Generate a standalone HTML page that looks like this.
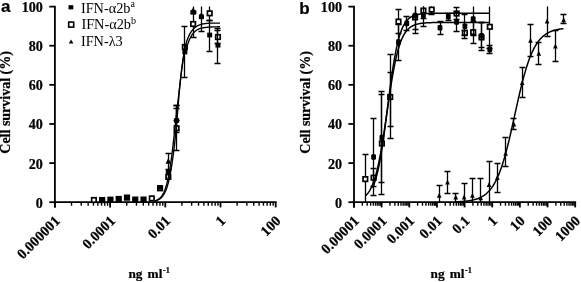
<!DOCTYPE html>
<html><head><meta charset="utf-8"><title>Figure</title>
<style>html,body{margin:0;padding:0;background:#fff;}svg text{fill:#000;}svg text[font-weight=bold]{stroke:#000;stroke-width:0.22px;}</style>
</head><body>
<svg width="581" height="282" viewBox="0 0 581 282" style="display:block;will-change:transform">
<rect width="581" height="282" fill="#fff"/>
<text x="1" y="12.4" font-family="Liberation Sans, sans-serif" font-weight="bold" font-size="17">a</text>
<path d="M49.3,6.6H54.9V207.4" fill="none" stroke="#000" stroke-width="1.8" stroke-linejoin="miter"/>
<path d="M49.3,202.20H54.9" stroke="#000" stroke-width="1.8"/>
<path d="M49.3,163.08H54.9" stroke="#000" stroke-width="1.8"/>
<path d="M49.3,123.96H54.9" stroke="#000" stroke-width="1.8"/>
<path d="M49.3,84.84H54.9" stroke="#000" stroke-width="1.8"/>
<path d="M49.3,45.72H54.9" stroke="#000" stroke-width="1.8"/>
<text x="42.9" y="207.70" text-anchor="end" font-family="Liberation Serif, serif" font-weight="bold" font-size="14.1">0</text>
<text x="42.9" y="168.58" text-anchor="end" font-family="Liberation Serif, serif" font-weight="bold" font-size="14.1">20</text>
<text x="42.9" y="129.46" text-anchor="end" font-family="Liberation Serif, serif" font-weight="bold" font-size="14.1">40</text>
<text x="42.9" y="90.34" text-anchor="end" font-family="Liberation Serif, serif" font-weight="bold" font-size="14.1">60</text>
<text x="42.9" y="51.22" text-anchor="end" font-family="Liberation Serif, serif" font-weight="bold" font-size="14.1">80</text>
<text x="42.9" y="12.10" text-anchor="end" font-family="Liberation Serif, serif" font-weight="bold" font-size="14.1">100</text>
<path d="M54.0,202.2H276.59999999999997" stroke="#000" stroke-width="1.8"/>
<path d="M54.90,202.2V207.4" stroke="#000" stroke-width="1.8"/>
<path d="M71.52,202.2V205.7" stroke="#000" stroke-width="1.4"/>
<path d="M81.24,202.2V205.7" stroke="#000" stroke-width="1.4"/>
<path d="M88.13,202.2V205.7" stroke="#000" stroke-width="1.4"/>
<path d="M93.48,202.2V205.7" stroke="#000" stroke-width="1.4"/>
<path d="M97.85,202.2V205.7" stroke="#000" stroke-width="1.4"/>
<path d="M101.55,202.2V205.7" stroke="#000" stroke-width="1.4"/>
<path d="M104.75,202.2V205.7" stroke="#000" stroke-width="1.4"/>
<path d="M107.57,202.2V205.7" stroke="#000" stroke-width="1.4"/>
<text transform="translate(54.70,215.6) rotate(-45)" text-anchor="end" font-family="Liberation Serif, serif" font-weight="bold" font-size="14.4" dy="8.6">0.000001</text>
<path d="M110.10,202.2V207.4" stroke="#000" stroke-width="1.8"/>
<path d="M126.72,202.2V205.7" stroke="#000" stroke-width="1.4"/>
<path d="M136.44,202.2V205.7" stroke="#000" stroke-width="1.4"/>
<path d="M143.33,202.2V205.7" stroke="#000" stroke-width="1.4"/>
<path d="M148.68,202.2V205.7" stroke="#000" stroke-width="1.4"/>
<path d="M153.05,202.2V205.7" stroke="#000" stroke-width="1.4"/>
<path d="M156.75,202.2V205.7" stroke="#000" stroke-width="1.4"/>
<path d="M159.95,202.2V205.7" stroke="#000" stroke-width="1.4"/>
<path d="M162.77,202.2V205.7" stroke="#000" stroke-width="1.4"/>
<text transform="translate(109.90,215.6) rotate(-45)" text-anchor="end" font-family="Liberation Serif, serif" font-weight="bold" font-size="14.4" dy="8.6">0.0001</text>
<path d="M165.30,202.2V207.4" stroke="#000" stroke-width="1.8"/>
<path d="M181.92,202.2V205.7" stroke="#000" stroke-width="1.4"/>
<path d="M191.64,202.2V205.7" stroke="#000" stroke-width="1.4"/>
<path d="M198.53,202.2V205.7" stroke="#000" stroke-width="1.4"/>
<path d="M203.88,202.2V205.7" stroke="#000" stroke-width="1.4"/>
<path d="M208.25,202.2V205.7" stroke="#000" stroke-width="1.4"/>
<path d="M211.95,202.2V205.7" stroke="#000" stroke-width="1.4"/>
<path d="M215.15,202.2V205.7" stroke="#000" stroke-width="1.4"/>
<path d="M217.97,202.2V205.7" stroke="#000" stroke-width="1.4"/>
<text transform="translate(165.10,215.6) rotate(-45)" text-anchor="end" font-family="Liberation Serif, serif" font-weight="bold" font-size="14.4" dy="8.6">0.01</text>
<path d="M220.50,202.2V207.4" stroke="#000" stroke-width="1.8"/>
<path d="M237.12,202.2V205.7" stroke="#000" stroke-width="1.4"/>
<path d="M246.84,202.2V205.7" stroke="#000" stroke-width="1.4"/>
<path d="M253.73,202.2V205.7" stroke="#000" stroke-width="1.4"/>
<path d="M259.08,202.2V205.7" stroke="#000" stroke-width="1.4"/>
<path d="M263.45,202.2V205.7" stroke="#000" stroke-width="1.4"/>
<path d="M267.15,202.2V205.7" stroke="#000" stroke-width="1.4"/>
<path d="M270.35,202.2V205.7" stroke="#000" stroke-width="1.4"/>
<path d="M273.17,202.2V205.7" stroke="#000" stroke-width="1.4"/>
<text transform="translate(220.30,215.6) rotate(-45)" text-anchor="end" font-family="Liberation Serif, serif" font-weight="bold" font-size="14.4" dy="8.6">1</text>
<path d="M275.70,202.2V207.4" stroke="#000" stroke-width="1.8"/>
<text transform="translate(275.50,215.6) rotate(-45)" text-anchor="end" font-family="Liberation Serif, serif" font-weight="bold" font-size="14.4" dy="8.6">100</text>
<text transform="translate(10.4,102.4) rotate(-90)" text-anchor="middle" font-family="Liberation Serif, serif" font-weight="bold" font-size="14">Cell survival (%)</text>
<text y="277.6" font-family="Liberation Serif, serif" font-weight="bold" font-size="13.3"><tspan x="128.4">ng</tspan><tspan x="147.6">ml</tspan><tspan x="163" dy="-4.6" font-size="8.2">-1</tspan></text>
<rect x="68.50" y="5.20" width="4.8" height="4.2" fill="#000"/>
<rect x="68.70" y="22.10" width="5.0" height="5.0" fill="#fff" stroke="#000" stroke-width="1.6"/>
<path d="M71.10,39.39L73.40,43.59H68.80Z" fill="#000"/>
<text x="80.9" y="12.5" font-family="Liberation Serif, serif" font-size="14.3">IFN-α2b<tspan dy="-5.9" font-size="10">a</tspan></text>
<text x="81.4" y="29.4" font-family="Liberation Serif, serif" font-size="14.3">IFN-α2b<tspan dy="-5.9" font-size="10">b</tspan></text>
<text x="80.9" y="45.8" font-family="Liberation Serif, serif" font-size="14.3">IFN-λ3</text>
<path d="M176.50,105.50V150.50M173.50,105.50H179.50M173.50,150.50H179.50" stroke="#000" stroke-width="1.3" fill="none"/>
<path d="M193.50,11.50V37.50M190.50,11.50H196.50M190.50,37.50H196.50" stroke="#000" stroke-width="1.3" fill="none"/>
<path d="M209.50,6.40V20.50M206.50,20.50H212.50" stroke="#000" stroke-width="1.3" fill="none"/>
<path d="M217.50,28.50V43.50M214.50,28.50H220.50M214.50,43.50H220.50" stroke="#000" stroke-width="1.3" fill="none"/>
<rect x="91.65" y="197.75" width="4.5" height="4.5" fill="#fff" stroke="#000" stroke-width="1.7"/>
<rect x="99.92" y="197.85" width="4.5" height="4.5" fill="#fff" stroke="#000" stroke-width="1.7"/>
<rect x="108.19" y="197.45" width="4.5" height="4.5" fill="#fff" stroke="#000" stroke-width="1.7"/>
<rect x="116.46" y="196.75" width="4.5" height="4.5" fill="#fff" stroke="#000" stroke-width="1.7"/>
<rect x="124.73" y="195.35" width="4.5" height="4.5" fill="#fff" stroke="#000" stroke-width="1.7"/>
<rect x="133.00" y="197.35" width="4.5" height="4.5" fill="#fff" stroke="#000" stroke-width="1.7"/>
<rect x="141.27" y="197.35" width="4.5" height="4.5" fill="#fff" stroke="#000" stroke-width="1.7"/>
<rect x="149.54" y="196.15" width="4.5" height="4.5" fill="#fff" stroke="#000" stroke-width="1.7"/>
<rect x="157.81" y="186.05" width="4.5" height="4.5" fill="#fff" stroke="#000" stroke-width="1.7"/>
<rect x="166.08" y="174.65" width="4.5" height="4.5" fill="#fff" stroke="#000" stroke-width="1.7"/>
<rect x="174.35" y="126.05" width="4.5" height="4.5" fill="#fff" stroke="#000" stroke-width="1.7"/>
<rect x="182.62" y="44.75" width="4.5" height="4.5" fill="#fff" stroke="#000" stroke-width="1.7"/>
<rect x="190.89" y="21.75" width="4.5" height="4.5" fill="#fff" stroke="#000" stroke-width="1.7"/>
<rect x="207.43" y="11.05" width="4.5" height="4.5" fill="#fff" stroke="#000" stroke-width="1.7"/>
<rect x="215.70" y="34.75" width="4.5" height="4.5" fill="#fff" stroke="#000" stroke-width="1.7"/>
<path d="M176.50,108.50V132.50M173.50,108.50H179.50M173.50,132.50H179.50" stroke="#000" stroke-width="1.3" fill="none"/>
<path d="M184.50,26.50V77.50M181.50,26.50H187.50M181.50,77.50H187.50" stroke="#000" stroke-width="1.3" fill="none"/>
<path d="M193.50,6.40V13.50M190.50,13.50H196.50" stroke="#000" stroke-width="1.3" fill="none"/>
<path d="M201.50,6.40V31.50M198.50,31.50H204.50" stroke="#000" stroke-width="1.3" fill="none"/>
<path d="M209.50,20.50V51.50M206.50,20.50H212.50M206.50,51.50H212.50" stroke="#000" stroke-width="1.3" fill="none"/>
<path d="M217.50,30.50V63.50M214.50,30.50H220.50M214.50,63.50H220.50" stroke="#000" stroke-width="1.3" fill="none"/>
<rect x="99.67" y="197.75" width="5.0" height="4.7" fill="#000"/>
<rect x="107.94" y="197.45" width="5.0" height="4.7" fill="#000"/>
<rect x="116.21" y="196.85" width="5.0" height="4.7" fill="#000"/>
<rect x="124.48" y="195.35" width="5.0" height="4.7" fill="#000"/>
<rect x="132.75" y="197.35" width="5.0" height="4.7" fill="#000"/>
<rect x="141.02" y="197.35" width="5.0" height="4.7" fill="#000"/>
<rect x="157.56" y="185.05" width="5.0" height="4.7" fill="#000"/>
<rect x="165.83" y="169.95" width="5.0" height="4.7" fill="#000"/>
<rect x="174.10" y="118.15" width="5.0" height="4.7" fill="#000"/>
<rect x="182.37" y="49.65" width="5.0" height="4.7" fill="#000"/>
<rect x="190.64" y="9.85" width="5.0" height="4.7" fill="#000"/>
<rect x="198.91" y="14.45" width="5.0" height="4.7" fill="#000"/>
<rect x="207.18" y="32.65" width="5.0" height="4.7" fill="#000"/>
<rect x="215.45" y="42.85" width="5.0" height="4.7" fill="#000"/>
<path d="M168.50,153.50V169.50M165.50,153.50H171.50M165.50,169.50H171.50" stroke="#000" stroke-width="1.3" fill="none"/>
<path d="M176.50,105.50V120.50M173.50,105.50H179.50M173.50,120.50H179.50" stroke="#000" stroke-width="1.3" fill="none"/>
<path d="M168.33,158.12L171.13,163.72H165.53Z" fill="#000"/>
<path d="M193.14,7.42L195.94,13.02H190.34Z" fill="#000"/>
<path d="M201.41,11.92L204.21,17.52H198.61Z" fill="#000"/>
<polyline points="155.00,201.04 155.50,200.91 156.00,200.76 156.50,200.59 157.00,200.40 157.50,200.20 158.00,199.97 158.50,199.71 159.00,199.43 159.50,199.11 160.00,198.76 160.50,198.37 161.00,197.93 161.50,197.45 162.00,196.91 162.50,196.32 163.00,195.66 163.50,194.93 164.00,194.13 164.50,193.24 165.00,192.25 165.50,191.17 166.00,189.97 166.50,188.66 167.00,187.22 167.50,185.64 168.00,183.91 168.50,182.02 169.00,179.97 169.50,177.74 170.00,175.32 170.50,172.71 171.00,169.90 171.50,166.89 172.00,163.67 172.50,160.24 173.00,156.60 173.50,152.76 174.00,148.73 174.50,144.52 175.00,140.14 175.50,135.61 176.00,130.95 176.50,125.28 177.00,119.28 177.50,113.22 178.00,107.15 178.50,101.14 179.00,95.23 179.50,89.47 180.00,84.08 180.50,79.57 181.00,75.25 181.50,71.13 182.00,67.23 182.50,63.54 183.00,60.07 183.50,56.83 184.00,53.77 184.50,50.79 185.00,48.05 185.50,45.54 186.00,43.60 186.50,42.02 187.00,40.55 187.50,39.18 188.00,37.90 188.50,36.72 189.00,35.63 189.50,34.62 190.00,33.68 190.50,32.81 191.00,32.02 191.50,31.28 192.00,30.60 192.50,29.98 193.00,29.40 193.50,28.87 194.00,28.38 194.50,27.94 195.00,27.53 195.50,27.15 196.00,26.80 196.50,26.48 197.00,26.19 197.50,25.93 198.00,25.68 198.50,25.45 199.00,25.19 199.50,24.97 200.00,24.76 200.50,24.58 201.00,24.42 201.50,24.27 202.00,24.14 202.50,24.02 203.00,23.92 203.50,23.83 204.00,23.74 204.50,23.67 205.00,23.60 205.50,23.54 206.00,23.49 206.50,23.44 207.00,23.39 207.50,23.36 208.00,23.32 208.50,23.29 209.00,23.26 209.50,23.24 210.00,23.22 210.50,23.20 211.00,23.18 211.50,23.16 212.00,23.15 212.50,23.14 213.00,23.13 213.50,23.12 214.00,23.11 214.50,23.10 215.00,23.09 215.50,23.08 216.00,23.08 216.50,23.07 217.00,23.07 217.50,23.07 218.00,23.06 218.50,23.06 219.00,23.06 219.50,23.05 220.00,23.05" fill="none" stroke="#000" stroke-width="1.35" stroke-linejoin="round"/>
<polyline points="155.00,200.79 155.50,200.62 156.00,200.43 156.50,200.22 157.00,199.99 157.50,199.73 158.00,199.44 158.50,199.11 159.00,198.75 159.50,198.35 160.00,197.90 160.50,197.39 161.00,196.84 161.50,196.22 162.00,195.53 162.50,194.76 163.00,193.91 163.50,192.97 164.00,191.93 164.50,190.78 165.00,189.52 165.50,188.12 166.00,186.58 166.50,184.90 167.00,183.05 167.50,181.03 168.00,178.84 168.50,176.45 169.00,173.87 169.50,171.08 170.00,168.07 170.50,164.86 171.00,161.42 171.50,157.78 172.00,153.92 172.50,149.86 173.00,145.62 173.50,141.20 174.00,136.62 174.50,131.91 175.00,127.40 175.50,123.01 176.00,118.58 176.50,114.12 177.00,109.67 177.50,105.24 178.00,100.86 178.50,96.55 179.00,92.32 179.50,88.21 180.00,84.05 180.50,79.45 181.00,75.06 181.50,70.90 182.00,66.99 182.50,63.33 183.00,59.92 183.50,56.76 184.00,54.09 184.50,52.56 185.00,51.10 185.50,49.71 186.00,48.39 186.50,47.14 187.00,45.95 187.50,44.82 188.00,43.42 188.50,42.04 189.00,40.76 189.50,39.58 190.00,38.49 190.50,37.49 191.00,36.57 191.50,35.72 192.00,34.94 192.50,34.22 193.00,33.57 193.50,32.96 194.00,32.41 194.50,31.90 195.00,31.43 195.50,31.01 196.00,30.62 196.50,30.27 197.00,29.94 197.50,29.65 198.00,29.38 198.50,29.14 199.00,28.91 199.50,28.71 200.00,28.52 200.50,28.35 201.00,28.20 201.50,28.09 202.00,27.99 202.50,27.90 203.00,27.81 203.50,27.73 204.00,27.65 204.50,27.58 205.00,27.52 205.50,27.46 206.00,27.40 206.50,27.35 207.00,27.30 207.50,27.25 208.00,27.21 208.50,27.17 209.00,27.14 209.50,27.10 210.00,27.07 210.50,27.04 211.00,27.01 211.50,26.99 212.00,26.96 212.50,26.94 213.00,26.92 213.50,26.90 214.00,26.88 214.50,26.87 215.00,26.85 215.50,26.84 216.00,26.83 216.50,26.81 217.00,26.80 217.50,26.79 218.00,26.78 218.50,26.77 219.00,26.76 219.50,26.75 220.00,26.75" fill="none" stroke="#000" stroke-width="1.35" stroke-linejoin="round"/>
<text x="299.3" y="13.5" font-family="Liberation Sans, sans-serif" font-weight="bold" font-size="17">b</text>
<path d="M348.4,6.6H354.0V207.4" fill="none" stroke="#000" stroke-width="1.8" stroke-linejoin="miter"/>
<path d="M348.4,202.20H354.0" stroke="#000" stroke-width="1.8"/>
<path d="M348.4,163.08H354.0" stroke="#000" stroke-width="1.8"/>
<path d="M348.4,123.96H354.0" stroke="#000" stroke-width="1.8"/>
<path d="M348.4,84.84H354.0" stroke="#000" stroke-width="1.8"/>
<path d="M348.4,45.72H354.0" stroke="#000" stroke-width="1.8"/>
<text x="342.0" y="207.70" text-anchor="end" font-family="Liberation Serif, serif" font-weight="bold" font-size="14.1">0</text>
<text x="342.0" y="168.58" text-anchor="end" font-family="Liberation Serif, serif" font-weight="bold" font-size="14.1">20</text>
<text x="342.0" y="129.46" text-anchor="end" font-family="Liberation Serif, serif" font-weight="bold" font-size="14.1">40</text>
<text x="342.0" y="90.34" text-anchor="end" font-family="Liberation Serif, serif" font-weight="bold" font-size="14.1">60</text>
<text x="342.0" y="51.22" text-anchor="end" font-family="Liberation Serif, serif" font-weight="bold" font-size="14.1">80</text>
<text x="342.0" y="12.10" text-anchor="end" font-family="Liberation Serif, serif" font-weight="bold" font-size="14.1">100</text>
<path d="M353.1,202.2H576.1" stroke="#000" stroke-width="1.8"/>
<path d="M354.00,202.2V207.4" stroke="#000" stroke-width="1.8"/>
<path d="M362.32,202.2V205.7" stroke="#000" stroke-width="1.4"/>
<path d="M367.19,202.2V205.7" stroke="#000" stroke-width="1.4"/>
<path d="M370.65,202.2V205.7" stroke="#000" stroke-width="1.4"/>
<path d="M373.33,202.2V205.7" stroke="#000" stroke-width="1.4"/>
<path d="M375.52,202.2V205.7" stroke="#000" stroke-width="1.4"/>
<path d="M377.37,202.2V205.7" stroke="#000" stroke-width="1.4"/>
<path d="M378.97,202.2V205.7" stroke="#000" stroke-width="1.4"/>
<path d="M380.38,202.2V205.7" stroke="#000" stroke-width="1.4"/>
<text transform="translate(353.80,215.6) rotate(-45)" text-anchor="end" font-family="Liberation Serif, serif" font-weight="bold" font-size="14.4" dy="8.6">0.00001</text>
<path d="M381.65,202.2V207.4" stroke="#000" stroke-width="1.8"/>
<path d="M389.97,202.2V205.7" stroke="#000" stroke-width="1.4"/>
<path d="M394.84,202.2V205.7" stroke="#000" stroke-width="1.4"/>
<path d="M398.30,202.2V205.7" stroke="#000" stroke-width="1.4"/>
<path d="M400.98,202.2V205.7" stroke="#000" stroke-width="1.4"/>
<path d="M403.17,202.2V205.7" stroke="#000" stroke-width="1.4"/>
<path d="M405.02,202.2V205.7" stroke="#000" stroke-width="1.4"/>
<path d="M406.62,202.2V205.7" stroke="#000" stroke-width="1.4"/>
<path d="M408.03,202.2V205.7" stroke="#000" stroke-width="1.4"/>
<text transform="translate(381.45,215.6) rotate(-45)" text-anchor="end" font-family="Liberation Serif, serif" font-weight="bold" font-size="14.4" dy="8.6">0.0001</text>
<path d="M409.30,202.2V207.4" stroke="#000" stroke-width="1.8"/>
<path d="M417.62,202.2V205.7" stroke="#000" stroke-width="1.4"/>
<path d="M422.49,202.2V205.7" stroke="#000" stroke-width="1.4"/>
<path d="M425.95,202.2V205.7" stroke="#000" stroke-width="1.4"/>
<path d="M428.63,202.2V205.7" stroke="#000" stroke-width="1.4"/>
<path d="M430.82,202.2V205.7" stroke="#000" stroke-width="1.4"/>
<path d="M432.67,202.2V205.7" stroke="#000" stroke-width="1.4"/>
<path d="M434.27,202.2V205.7" stroke="#000" stroke-width="1.4"/>
<path d="M435.68,202.2V205.7" stroke="#000" stroke-width="1.4"/>
<text transform="translate(409.10,215.6) rotate(-45)" text-anchor="end" font-family="Liberation Serif, serif" font-weight="bold" font-size="14.4" dy="8.6">0.001</text>
<path d="M436.95,202.2V207.4" stroke="#000" stroke-width="1.8"/>
<path d="M445.27,202.2V205.7" stroke="#000" stroke-width="1.4"/>
<path d="M450.14,202.2V205.7" stroke="#000" stroke-width="1.4"/>
<path d="M453.60,202.2V205.7" stroke="#000" stroke-width="1.4"/>
<path d="M456.28,202.2V205.7" stroke="#000" stroke-width="1.4"/>
<path d="M458.47,202.2V205.7" stroke="#000" stroke-width="1.4"/>
<path d="M460.32,202.2V205.7" stroke="#000" stroke-width="1.4"/>
<path d="M461.92,202.2V205.7" stroke="#000" stroke-width="1.4"/>
<path d="M463.33,202.2V205.7" stroke="#000" stroke-width="1.4"/>
<text transform="translate(436.75,215.6) rotate(-45)" text-anchor="end" font-family="Liberation Serif, serif" font-weight="bold" font-size="14.4" dy="8.6">0.01</text>
<path d="M464.60,202.2V207.4" stroke="#000" stroke-width="1.8"/>
<path d="M472.92,202.2V205.7" stroke="#000" stroke-width="1.4"/>
<path d="M477.79,202.2V205.7" stroke="#000" stroke-width="1.4"/>
<path d="M481.25,202.2V205.7" stroke="#000" stroke-width="1.4"/>
<path d="M483.93,202.2V205.7" stroke="#000" stroke-width="1.4"/>
<path d="M486.12,202.2V205.7" stroke="#000" stroke-width="1.4"/>
<path d="M487.97,202.2V205.7" stroke="#000" stroke-width="1.4"/>
<path d="M489.57,202.2V205.7" stroke="#000" stroke-width="1.4"/>
<path d="M490.98,202.2V205.7" stroke="#000" stroke-width="1.4"/>
<text transform="translate(464.40,215.6) rotate(-45)" text-anchor="end" font-family="Liberation Serif, serif" font-weight="bold" font-size="14.4" dy="8.6">0.1</text>
<path d="M492.25,202.2V207.4" stroke="#000" stroke-width="1.8"/>
<path d="M500.57,202.2V205.7" stroke="#000" stroke-width="1.4"/>
<path d="M505.44,202.2V205.7" stroke="#000" stroke-width="1.4"/>
<path d="M508.90,202.2V205.7" stroke="#000" stroke-width="1.4"/>
<path d="M511.58,202.2V205.7" stroke="#000" stroke-width="1.4"/>
<path d="M513.77,202.2V205.7" stroke="#000" stroke-width="1.4"/>
<path d="M515.62,202.2V205.7" stroke="#000" stroke-width="1.4"/>
<path d="M517.22,202.2V205.7" stroke="#000" stroke-width="1.4"/>
<path d="M518.63,202.2V205.7" stroke="#000" stroke-width="1.4"/>
<text transform="translate(492.05,215.6) rotate(-45)" text-anchor="end" font-family="Liberation Serif, serif" font-weight="bold" font-size="14.4" dy="8.6">1</text>
<path d="M519.90,202.2V207.4" stroke="#000" stroke-width="1.8"/>
<path d="M528.22,202.2V205.7" stroke="#000" stroke-width="1.4"/>
<path d="M533.09,202.2V205.7" stroke="#000" stroke-width="1.4"/>
<path d="M536.55,202.2V205.7" stroke="#000" stroke-width="1.4"/>
<path d="M539.23,202.2V205.7" stroke="#000" stroke-width="1.4"/>
<path d="M541.42,202.2V205.7" stroke="#000" stroke-width="1.4"/>
<path d="M543.27,202.2V205.7" stroke="#000" stroke-width="1.4"/>
<path d="M544.87,202.2V205.7" stroke="#000" stroke-width="1.4"/>
<path d="M546.28,202.2V205.7" stroke="#000" stroke-width="1.4"/>
<text transform="translate(519.70,215.6) rotate(-45)" text-anchor="end" font-family="Liberation Serif, serif" font-weight="bold" font-size="14.4" dy="8.6">10</text>
<path d="M547.55,202.2V207.4" stroke="#000" stroke-width="1.8"/>
<path d="M555.87,202.2V205.7" stroke="#000" stroke-width="1.4"/>
<path d="M560.74,202.2V205.7" stroke="#000" stroke-width="1.4"/>
<path d="M564.20,202.2V205.7" stroke="#000" stroke-width="1.4"/>
<path d="M566.88,202.2V205.7" stroke="#000" stroke-width="1.4"/>
<path d="M569.07,202.2V205.7" stroke="#000" stroke-width="1.4"/>
<path d="M570.92,202.2V205.7" stroke="#000" stroke-width="1.4"/>
<path d="M572.52,202.2V205.7" stroke="#000" stroke-width="1.4"/>
<path d="M573.93,202.2V205.7" stroke="#000" stroke-width="1.4"/>
<text transform="translate(547.35,215.6) rotate(-45)" text-anchor="end" font-family="Liberation Serif, serif" font-weight="bold" font-size="14.4" dy="8.6">100</text>
<path d="M575.20,202.2V207.4" stroke="#000" stroke-width="1.8"/>
<text transform="translate(575.00,215.6) rotate(-45)" text-anchor="end" font-family="Liberation Serif, serif" font-weight="bold" font-size="14.4" dy="8.6">1000</text>
<text transform="translate(310.4,102.4) rotate(-90)" text-anchor="middle" font-family="Liberation Serif, serif" font-weight="bold" font-size="14">Cell survival (%)</text>
<text y="277.6" font-family="Liberation Serif, serif" font-weight="bold" font-size="13.3"><tspan x="430.5">ng</tspan><tspan x="449.70000000000005">ml</tspan><tspan x="465.1" dy="-4.6" font-size="8.2">-1</tspan></text>
<path d="M365.50,154.50V202.20M362.50,154.50H368.50" stroke="#000" stroke-width="1.3" fill="none"/>
<path d="M373.50,168.50V186.50M370.50,168.50H376.50M370.50,186.50H376.50" stroke="#000" stroke-width="1.3" fill="none"/>
<path d="M381.50,94.50V194.50M378.50,94.50H384.50M378.50,194.50H384.50" stroke="#000" stroke-width="1.3" fill="none"/>
<path d="M390.50,72.50V126.50M387.50,72.50H393.50M387.50,126.50H393.50" stroke="#000" stroke-width="1.3" fill="none"/>
<path d="M398.50,9.50V33.50M395.50,9.50H401.50M395.50,33.50H401.50" stroke="#000" stroke-width="1.3" fill="none"/>
<path d="M415.50,6.40V29.50M412.50,29.50H418.50" stroke="#000" stroke-width="1.3" fill="none"/>
<path d="M423.50,6.40V18.50M420.50,18.50H426.50" stroke="#000" stroke-width="1.3" fill="none"/>
<path d="M431.50,6.40V14.50M428.50,14.50H434.50" stroke="#000" stroke-width="1.3" fill="none"/>
<path d="M456.50,7.50V19.50M453.50,7.50H459.50M453.50,19.50H459.50" stroke="#000" stroke-width="1.3" fill="none"/>
<path d="M464.50,30.50V35.50M461.50,30.50H467.50M461.50,35.50H467.50" stroke="#000" stroke-width="1.3" fill="none"/>
<path d="M473.50,21.50V43.50M470.50,21.50H476.50M470.50,43.50H476.50" stroke="#000" stroke-width="1.3" fill="none"/>
<path d="M481.50,22.50V50.50M478.50,22.50H484.50M478.50,50.50H484.50" stroke="#000" stroke-width="1.3" fill="none"/>
<path d="M489.50,6.40V48.50M486.50,48.50H492.50" stroke="#000" stroke-width="1.3" fill="none"/>
<rect x="363.05" y="176.85" width="4.5" height="4.5" fill="#fff" stroke="#000" stroke-width="1.7"/>
<rect x="371.35" y="175.45" width="4.5" height="4.5" fill="#fff" stroke="#000" stroke-width="1.7"/>
<rect x="379.65" y="141.25" width="4.5" height="4.5" fill="#fff" stroke="#000" stroke-width="1.7"/>
<rect x="387.95" y="94.75" width="4.5" height="4.5" fill="#fff" stroke="#000" stroke-width="1.7"/>
<rect x="396.25" y="19.35" width="4.5" height="4.5" fill="#fff" stroke="#000" stroke-width="1.7"/>
<rect x="412.85" y="15.15" width="4.5" height="4.5" fill="#fff" stroke="#000" stroke-width="1.7"/>
<rect x="421.15" y="8.35" width="4.5" height="4.5" fill="#fff" stroke="#000" stroke-width="1.7"/>
<rect x="429.45" y="7.35" width="4.5" height="4.5" fill="#fff" stroke="#000" stroke-width="1.7"/>
<rect x="454.35" y="11.25" width="4.5" height="4.5" fill="#fff" stroke="#000" stroke-width="1.7"/>
<rect x="462.65" y="30.55" width="4.5" height="4.5" fill="#fff" stroke="#000" stroke-width="1.7"/>
<rect x="470.95" y="29.95" width="4.5" height="4.5" fill="#fff" stroke="#000" stroke-width="1.7"/>
<rect x="479.25" y="35.15" width="4.5" height="4.5" fill="#fff" stroke="#000" stroke-width="1.7"/>
<rect x="487.55" y="24.55" width="4.5" height="4.5" fill="#fff" stroke="#000" stroke-width="1.7"/>
<path d="M373.50,118.50V195.50M370.50,118.50H376.50M370.50,195.50H376.50" stroke="#000" stroke-width="1.3" fill="none"/>
<path d="M381.50,91.50V182.50M378.50,91.50H384.50M378.50,182.50H384.50" stroke="#000" stroke-width="1.3" fill="none"/>
<path d="M390.50,54.50V138.50M387.50,54.50H393.50M387.50,138.50H393.50" stroke="#000" stroke-width="1.3" fill="none"/>
<path d="M398.50,24.50V60.50M395.50,24.50H401.50M395.50,60.50H401.50" stroke="#000" stroke-width="1.3" fill="none"/>
<path d="M406.50,16.50V30.50M403.50,16.50H409.50M403.50,30.50H409.50" stroke="#000" stroke-width="1.3" fill="none"/>
<path d="M415.50,6.40V33.50M412.50,33.50H418.50" stroke="#000" stroke-width="1.3" fill="none"/>
<path d="M423.50,6.40V26.50M420.50,26.50H426.50" stroke="#000" stroke-width="1.3" fill="none"/>
<path d="M440.50,21.50V34.50M437.50,21.50H443.50M437.50,34.50H443.50" stroke="#000" stroke-width="1.3" fill="none"/>
<path d="M448.50,13.50V20.50M445.50,13.50H451.50M445.50,20.50H451.50" stroke="#000" stroke-width="1.3" fill="none"/>
<path d="M456.50,12.50V31.50M453.50,12.50H459.50M453.50,31.50H459.50" stroke="#000" stroke-width="1.3" fill="none"/>
<path d="M464.50,14.50V38.50M461.50,14.50H467.50M461.50,38.50H467.50" stroke="#000" stroke-width="1.3" fill="none"/>
<path d="M473.50,6.40V35.50M470.50,35.50H476.50" stroke="#000" stroke-width="1.3" fill="none"/>
<path d="M481.50,22.50V47.50M478.50,22.50H484.50M478.50,47.50H484.50" stroke="#000" stroke-width="1.3" fill="none"/>
<path d="M489.50,45.50V53.50M486.50,45.50H492.50M486.50,53.50H492.50" stroke="#000" stroke-width="1.3" fill="none"/>
<rect x="371.20" y="154.20" width="4.8" height="5.6" rx="1.2" fill="#000"/>
<rect x="379.50" y="134.80" width="4.8" height="5.6" rx="1.2" fill="#000"/>
<rect x="396.10" y="39.30" width="4.8" height="5.6" rx="1.2" fill="#000"/>
<rect x="404.40" y="20.60" width="4.8" height="5.6" rx="1.2" fill="#000"/>
<rect x="412.70" y="12.80" width="4.8" height="5.6" rx="1.2" fill="#000"/>
<rect x="421.00" y="12.30" width="4.8" height="5.6" rx="1.2" fill="#000"/>
<rect x="437.60" y="24.90" width="4.8" height="5.6" rx="1.2" fill="#000"/>
<rect x="445.90" y="13.90" width="4.8" height="5.6" rx="1.2" fill="#000"/>
<rect x="454.20" y="19.20" width="4.8" height="5.6" rx="1.2" fill="#000"/>
<rect x="462.50" y="23.40" width="4.8" height="5.6" rx="1.2" fill="#000"/>
<rect x="470.80" y="16.30" width="4.8" height="5.6" rx="1.2" fill="#000"/>
<rect x="479.10" y="33.00" width="4.8" height="5.6" rx="1.2" fill="#000"/>
<rect x="487.40" y="46.60" width="4.8" height="5.6" rx="1.2" fill="#000"/>
<path d="M439.50,185.50V202.20M436.50,185.50H442.50" stroke="#000" stroke-width="1.3" fill="none"/>
<path d="M447.50,171.50V193.50M444.50,171.50H450.50M444.50,193.50H450.50" stroke="#000" stroke-width="1.3" fill="none"/>
<path d="M455.50,193.50V202.20M452.50,193.50H458.50" stroke="#000" stroke-width="1.3" fill="none"/>
<path d="M464.50,183.50V202.20M461.50,183.50H467.50" stroke="#000" stroke-width="1.3" fill="none"/>
<path d="M472.50,178.50V202.20M469.50,178.50H475.50" stroke="#000" stroke-width="1.3" fill="none"/>
<path d="M480.50,178.50V202.20M477.50,178.50H483.50" stroke="#000" stroke-width="1.3" fill="none"/>
<path d="M489.50,161.50V202.20M486.50,161.50H492.50" stroke="#000" stroke-width="1.3" fill="none"/>
<path d="M497.50,163.50V192.50M494.50,163.50H500.50M494.50,192.50H500.50" stroke="#000" stroke-width="1.3" fill="none"/>
<path d="M505.50,137.50V166.50M502.50,137.50H508.50M502.50,166.50H508.50" stroke="#000" stroke-width="1.3" fill="none"/>
<path d="M513.50,118.50V129.50M510.50,118.50H516.50M510.50,129.50H516.50" stroke="#000" stroke-width="1.3" fill="none"/>
<path d="M522.50,67.50V97.50M519.50,67.50H525.50M519.50,97.50H525.50" stroke="#000" stroke-width="1.3" fill="none"/>
<path d="M530.50,24.50V56.50M527.50,24.50H533.50M527.50,56.50H533.50" stroke="#000" stroke-width="1.3" fill="none"/>
<path d="M538.50,42.50V64.50M535.50,42.50H541.50M535.50,64.50H541.50" stroke="#000" stroke-width="1.3" fill="none"/>
<path d="M547.50,6.40V36.50M544.50,36.50H550.50" stroke="#000" stroke-width="1.3" fill="none"/>
<path d="M555.50,30.50V61.50M552.50,30.50H558.50M552.50,61.50H558.50" stroke="#000" stroke-width="1.3" fill="none"/>
<path d="M563.50,14.50V23.50M560.50,14.50H566.50M560.50,23.50H566.50" stroke="#000" stroke-width="1.3" fill="none"/>
<path d="M439.20,192.75L441.50,197.75H436.90Z" fill="#000"/>
<path d="M447.50,179.45L449.80,184.45H445.20Z" fill="#000"/>
<path d="M455.80,194.45L458.10,199.45H453.50Z" fill="#000"/>
<path d="M464.10,194.45L466.40,199.45H461.80Z" fill="#000"/>
<path d="M472.40,192.75L474.70,197.75H470.10Z" fill="#000"/>
<path d="M480.70,195.25L483.00,200.25H478.40Z" fill="#000"/>
<path d="M489.00,182.05L491.30,187.05H486.70Z" fill="#000"/>
<path d="M497.30,174.95L499.60,179.95H495.00Z" fill="#000"/>
<path d="M505.60,150.65L507.90,155.65H503.30Z" fill="#000"/>
<path d="M513.90,121.45L516.20,126.45H511.60Z" fill="#000"/>
<path d="M522.20,79.95L524.50,84.95H519.90Z" fill="#000"/>
<path d="M530.50,37.85L532.80,42.85H528.20Z" fill="#000"/>
<path d="M538.80,50.65L541.10,55.65H536.50Z" fill="#000"/>
<path d="M547.10,18.55L549.40,23.55H544.80Z" fill="#000"/>
<path d="M555.40,43.55L557.70,48.55H553.10Z" fill="#000"/>
<path d="M563.70,17.15L566.00,22.15H561.40Z" fill="#000"/>
<polyline points="372.60,187.71 373.10,186.56 373.60,185.32 374.10,183.99 374.60,182.58 375.10,181.06 375.60,179.45 376.10,177.73 376.60,175.90 377.10,173.96 377.60,171.90 378.10,169.72 378.60,167.42 379.10,164.99 379.60,162.44 380.10,159.76 380.60,156.96 381.10,154.03 381.60,150.98 382.10,147.81 382.60,144.53 383.10,141.14 383.60,137.65 384.10,134.07 384.60,130.40 385.10,126.66 385.60,122.85 386.10,119.00 386.60,115.10 387.10,111.18 387.60,107.25 388.10,103.32 388.60,99.40 389.10,95.52 389.60,91.67 390.10,87.88 390.60,84.15 391.10,80.51 391.60,76.94 392.10,73.48 392.60,70.11 393.10,66.86 393.60,63.72 394.10,60.70 394.60,57.80 395.10,55.03 395.60,52.38 396.10,49.86 396.60,47.47 397.10,45.19 397.60,43.04 398.10,41.01 398.60,39.10 399.10,37.30 399.60,35.60 400.10,34.01 400.60,32.52 401.10,31.13 401.60,29.82 402.10,28.61 402.60,27.47 403.10,26.42 403.60,25.43 404.10,24.52 404.60,23.67 405.10,22.88 405.60,22.14 406.10,21.46 406.60,20.83 407.10,20.25 407.60,19.71 408.10,19.21 408.60,18.75 409.10,18.32 409.60,17.93 410.10,17.56 410.60,17.22 411.10,16.91 411.60,16.62 412.10,16.36 412.60,16.11 413.10,15.89 413.60,15.68 414.10,15.49 414.60,15.31 415.10,15.15 415.60,15.00 416.10,14.86 416.60,14.73 417.10,14.61 417.60,14.51 418.10,14.41 418.60,14.32 419.10,14.23 419.60,14.15 420.10,14.08 420.60,14.01 421.10,13.95 421.60,13.90 422.10,13.85 422.60,13.80 423.10,13.76 423.60,13.71 424.10,13.68 424.60,13.64 425.10,13.61 425.60,13.58 426.10,13.56 426.60,13.53 427.10,13.51 427.60,13.49 428.10,13.47 428.60,13.45 429.10,13.44 429.60,13.42 430.10,13.41 430.60,13.40 431.10,13.38 431.60,13.37 432.10,13.36 432.60,13.35 433.10,13.35 433.60,13.34 434.10,13.33 434.60,13.32 435.10,13.32 435.60,13.31 436.10,13.31 436.60,13.30 437.10,13.30 437.60,13.30 438.10,13.29 438.60,13.29 439.10,13.29 439.60,13.28 440.10,13.28 440.60,13.28 441.10,13.28 441.60,13.27 442.10,13.27 442.60,13.27 443.10,13.27 443.60,13.27 444.10,13.27 444.60,13.26 445.10,13.26 445.60,13.26 446.10,13.26 446.60,13.26 447.10,13.26 447.60,13.26 448.10,13.26 448.60,13.26 449.10,13.26 449.60,13.26 450.10,13.26 450.60,13.26 451.10,13.26 451.60,13.25 452.10,13.25 452.60,13.25 453.10,13.25 453.60,13.25 454.10,13.25 454.60,13.25 455.10,13.25 455.60,13.25 456.10,13.25 456.60,13.25 457.10,13.25 457.60,13.25 458.10,13.25 458.60,13.25 459.10,13.25 459.60,13.25 460.10,13.25 460.60,13.25 461.10,13.25 461.60,13.25 462.10,13.25 462.60,13.25 463.10,13.25 463.60,13.25 464.10,13.25 464.60,13.25 465.10,13.25 465.60,13.25 466.10,13.25 466.60,13.25 467.10,13.25 467.60,13.25 468.10,13.25 468.60,13.25 469.10,13.25 469.60,13.25 470.10,13.25 470.60,13.25 471.10,13.25 471.60,13.25 472.10,13.25 472.60,13.25 473.10,13.25 473.60,13.25 474.10,13.25 474.60,13.25 475.10,13.25 475.60,13.25 476.10,13.25 476.60,13.25 477.10,13.25 477.60,13.25 478.10,13.25 478.60,13.25 479.10,13.25 479.60,13.25 480.10,13.25 480.60,13.25 481.10,13.25 481.60,13.25 482.10,13.25 482.60,13.25 483.10,13.25 483.60,13.25 484.10,13.25 484.60,13.25 485.10,13.25 485.60,13.25 486.10,13.25 486.60,13.25 487.10,13.25 487.60,13.25 488.10,13.25 488.60,13.25 489.10,13.25 489.60,13.25" fill="none" stroke="#000" stroke-width="1.5" stroke-linejoin="round"/>
<polyline points="365.30,196.04 365.80,195.57 366.30,195.06 366.80,194.51 367.30,193.92 367.80,193.29 368.30,192.62 368.80,191.89 369.30,191.12 369.80,190.29 370.30,189.40 370.80,188.46 371.30,187.45 371.80,186.37 372.30,185.22 372.80,184.00 373.30,182.70 373.80,181.32 374.30,179.86 374.80,178.31 375.30,176.66 375.80,174.93 376.30,173.10 376.80,171.17 377.30,169.14 377.80,167.01 378.30,164.78 378.80,162.45 379.30,160.01 379.80,157.48 380.30,154.84 380.80,152.10 381.30,149.27 381.80,146.35 382.30,143.34 382.80,140.25 383.30,137.09 383.80,133.86 384.30,130.57 384.80,127.22 385.30,123.84 385.80,120.42 386.30,116.97 386.80,113.52 387.30,110.06 387.80,106.60 388.30,103.16 388.80,99.75 389.30,96.38 389.80,93.05 390.30,89.78 390.80,86.57 391.30,83.42 391.80,80.36 392.30,77.38 392.80,74.48 393.30,71.68 393.80,68.98 394.30,66.37 394.80,63.86 395.30,61.46 395.80,59.16 396.30,56.96 396.80,54.86 397.30,52.87 397.80,50.97 398.30,49.17 398.80,47.46 399.30,45.85 399.80,44.32 400.30,42.89 400.80,41.53 401.30,40.26 401.80,39.06 402.30,37.93 402.80,36.88 403.30,35.89 403.80,34.96 404.30,34.09 404.80,33.28 405.30,32.52 405.80,31.81 406.30,31.15 406.80,30.54 407.30,29.96 407.80,29.43 408.30,28.93 408.80,28.46 409.30,28.03 409.80,27.63 410.30,27.25 410.80,26.91 411.30,26.58 411.80,26.28 412.30,26.00 412.80,25.74 413.30,25.50 413.80,25.28 414.30,25.07 414.80,24.88 415.30,24.70 415.80,24.54 416.30,24.38 416.80,24.24 417.30,24.11 417.80,23.99 418.30,23.87 418.80,23.77 419.30,23.67 419.80,23.58 420.30,23.50 420.80,23.42 421.30,23.35 421.80,23.28 422.30,23.22 422.80,23.16 423.30,23.11 423.80,23.06 424.30,23.01 424.80,22.97 425.30,22.93 425.80,22.90 426.30,22.86 426.80,22.83 427.30,22.80 427.80,22.78 428.30,22.75 428.80,22.73 429.30,22.71 429.80,22.69 430.30,22.67 430.80,22.65 431.30,22.64 431.80,22.62 432.30,22.61 432.80,22.60 433.30,22.59 433.80,22.58 434.30,22.57 434.80,22.56 435.30,22.55 435.80,22.54 436.30,22.53 436.80,22.53 437.30,22.52 437.80,22.52 438.30,22.51 438.80,22.50 439.30,22.50 439.80,22.50 440.30,22.49 440.80,22.49 441.30,22.49 441.80,22.48 442.30,22.48 442.80,22.48 443.30,22.47 443.80,22.47 444.30,22.47 444.80,22.47 445.30,22.47 445.80,22.46 446.30,22.46 446.80,22.46 447.30,22.46 447.80,22.46 448.30,22.46 448.80,22.46 449.30,22.46 449.80,22.45 450.30,22.45 450.80,22.45 451.30,22.45 451.80,22.45 452.30,22.45 452.80,22.45 453.30,22.45 453.80,22.45 454.30,22.45 454.80,22.45 455.30,22.45 455.80,22.45 456.30,22.45 456.80,22.45 457.30,22.45 457.80,22.45 458.30,22.45 458.80,22.45 459.30,22.45 459.80,22.45 460.30,22.45 460.80,22.45 461.30,22.45 461.80,22.45 462.30,22.45 462.80,22.45 463.30,22.45 463.80,22.44 464.30,22.44 464.80,22.44 465.30,22.44 465.80,22.44 466.30,22.44 466.80,22.44 467.30,22.44 467.80,22.44 468.30,22.44 468.80,22.44 469.30,22.44 469.80,22.44 470.30,22.44 470.80,22.44 471.30,22.44 471.80,22.44 472.30,22.44 472.80,22.44 473.30,22.44 473.80,22.44 474.30,22.44 474.80,22.44 475.30,22.44 475.80,22.44 476.30,22.44 476.80,22.44 477.30,22.44 477.80,22.44 478.30,22.44 478.80,22.44 479.30,22.44 479.80,22.44 480.30,22.44 480.80,22.44 481.30,22.44 481.80,22.44 482.30,22.44 482.80,22.44 483.30,22.44 483.80,22.44 484.30,22.44 484.80,22.44 485.30,22.44 485.80,22.44 486.30,22.44 486.80,22.44 487.30,22.44 487.80,22.44 488.30,22.44 488.80,22.44 489.30,22.44 489.80,22.44" fill="none" stroke="#000" stroke-width="1.5" stroke-linejoin="round"/>
<polyline points="455.00,201.85 455.50,201.84 456.00,201.82 456.50,201.80 457.00,201.77 457.50,201.75 458.00,201.73 458.50,201.70 459.00,201.68 459.50,201.65 460.00,201.62 460.50,201.59 461.00,201.56 461.50,201.52 462.00,201.49 462.50,201.45 463.00,201.41 463.50,201.37 464.00,201.32 464.50,201.27 465.00,201.22 465.50,201.17 466.00,201.12 466.50,201.06 467.00,201.00 467.50,200.94 468.00,200.87 468.50,200.80 469.00,200.73 469.50,200.65 470.00,200.57 470.50,200.48 471.00,200.39 471.50,200.29 472.00,200.19 472.50,200.08 473.00,199.97 473.50,199.86 474.00,199.73 474.50,199.60 475.00,199.47 475.50,199.32 476.00,199.17 476.50,199.01 477.00,198.85 477.50,198.67 478.00,198.49 478.50,198.29 479.00,198.09 479.50,197.87 480.00,197.65 480.50,197.41 481.00,197.16 481.50,196.90 482.00,196.63 482.50,196.34 483.00,196.04 483.50,195.72 484.00,195.39 484.50,195.04 485.00,194.67 485.50,194.29 486.00,193.89 486.50,193.47 487.00,193.02 487.50,192.56 488.00,192.07 488.50,191.57 489.00,191.04 489.50,190.48 490.00,189.90 490.50,189.29 491.00,188.65 491.50,187.99 492.00,187.29 492.50,186.57 493.00,185.81 493.50,185.02 494.00,184.20 494.50,183.34 495.00,182.45 495.50,181.51 496.00,180.55 496.50,179.54 497.00,178.49 497.50,177.41 498.00,176.28 498.50,175.11 499.00,173.90 499.50,172.64 500.00,171.34 500.50,169.99 501.00,168.61 501.50,167.17 502.00,165.69 502.50,164.16 503.00,162.59 503.50,160.98 504.00,159.31 504.50,157.61 505.00,155.86 505.50,154.06 506.00,152.23 506.50,150.35 507.00,148.43 507.50,146.48 508.00,144.48 508.50,142.46 509.00,140.39 509.50,138.30 510.00,136.18 510.50,134.02 511.00,131.85 511.50,129.65 512.00,127.44 512.50,125.20 513.00,122.95 513.50,120.70 514.00,118.43 514.50,116.16 515.00,113.89 515.50,111.61 516.00,109.35 516.50,107.09 517.00,104.84 517.50,102.60 518.00,100.38 518.50,98.18 519.00,96.01 519.50,93.85 520.00,91.72 520.50,89.63 521.00,87.56 521.50,85.52 522.00,83.53 522.50,81.57 523.00,79.64 523.50,77.76 524.00,75.92 524.50,74.12 525.00,72.36 525.50,70.65 526.00,68.98 526.50,67.36 527.00,65.78 527.50,64.25 528.00,62.76 528.50,61.32 529.00,59.92 529.50,58.57 530.00,57.27 530.50,56.01 531.00,54.79 531.50,53.61 532.00,52.48 532.50,51.38 533.00,50.33 533.50,49.32 534.00,48.35 534.50,47.41 535.00,46.51 535.50,45.65 536.00,44.82 536.50,44.03 537.00,43.27 537.50,42.54 538.00,41.84 538.50,41.17 539.00,40.53 539.50,39.92 540.00,39.33 540.50,38.77 541.00,38.23 541.50,37.72 542.00,37.24 542.50,36.77 543.00,36.32 543.50,35.90 544.00,35.49 544.50,35.11 545.00,34.74 545.50,34.39 546.00,34.05 546.50,33.73 547.00,33.43 547.50,33.14 548.00,32.86 548.50,32.60 549.00,32.35 549.50,32.11 550.00,31.89 550.50,31.67 551.00,31.47 551.50,31.27 552.00,31.08 552.50,30.91 553.00,30.74 553.50,30.58 554.00,30.43 554.50,30.28 555.00,30.15 555.50,30.01 556.00,29.89 556.50,29.77 557.00,29.66 557.50,29.55 558.00,29.45 558.50,29.35 559.00,29.26 559.50,29.18 560.00,29.09 560.50,29.01 561.00,28.94 561.50,28.87 562.00,28.80 562.50,28.74 563.00,28.68 563.50,28.62" fill="none" stroke="#000" stroke-width="1.5" stroke-linejoin="round"/>
</svg>
</body></html>
